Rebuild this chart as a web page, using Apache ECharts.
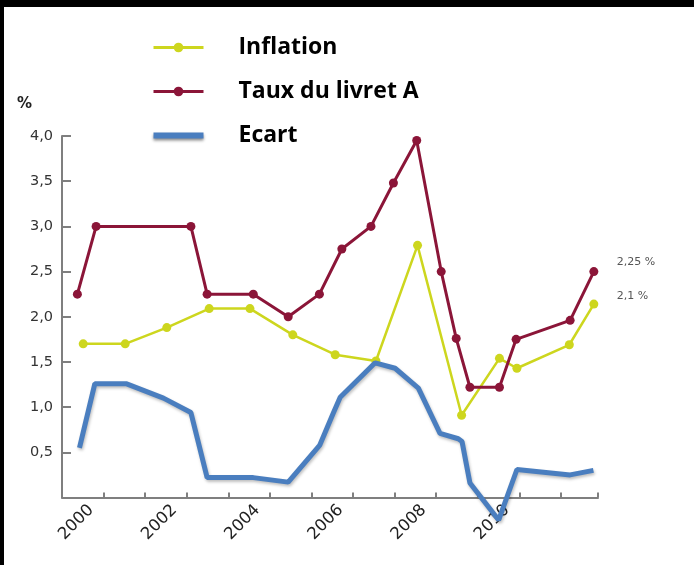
<!DOCTYPE html>
<html>
<head>
<meta charset="utf-8">
<script src="https://cdn.jsdelivr.net/npm/echarts@6/dist/echarts.min.js"></script>
<style>
html,body{margin:0;padding:0;background:#fff;}
#chart{width:694px;height:565px;}
</style>
</head>
<body>
<div id="chart"></div>
<script>
// x positions expressed in fractional years
const livretX = [2000.37, 2000.82, 2003.10, 2003.49, 2004.60, 2005.44, 2006.19, 2006.73, 2007.43, 2007.97, 2008.53, 2009.12, 2009.48, 2009.81, 2010.52, 2010.92, 2012.22, 2012.79];
const livretY = [2.25, 3.0, 3.0, 2.25, 2.25, 2.0, 2.25, 2.75, 3.0, 3.48, 3.95, 2.5, 1.76, 1.22, 1.22, 1.75, 1.96, 2.5];

const inflationX = [2000.51, 2001.52, 2002.52, 2003.54, 2004.52, 2005.55, 2006.57, 2007.55, 2008.55, 2009.61, 2010.52, 2010.94, 2012.20, 2012.79];
const inflationY = [1.70, 1.70, 1.88, 2.09, 2.09, 1.80, 1.58, 1.51, 2.79, 0.91, 1.54, 1.43, 1.69, 2.14];

const ecartX = [2000.42, 2000.79, 2001.54, 2002.44, 2003.10, 2003.49, 2004.60, 2005.44, 2006.20, 2006.52, 2006.69, 2007.53, 2008.01, 2008.57, 2009.09, 2009.53, 2009.62, 2009.81, 2010.50, 2010.94, 2012.22, 2012.78];
const ecartY = [0.55, 1.26, 1.26, 1.10, 0.94, 0.22, 0.22, 0.17, 0.58, 0.93, 1.11, 1.49, 1.43, 1.21, 0.71, 0.65, 0.62, 0.16, -0.25, 0.31, 0.25, 0.30];

const seriesNames = ['Inflation', 'Taux du livret A', 'Ecart'];
const endLabels = ['2,1 %', '2,25 %'];

const xLabelYears = [2000, 2002, 2004, 2006, 2008, 2010];
const xLabelTexts = ['2000', '2002', '2004', '2006', '2008', '2010'];
const yTickValues = [0, 0.5, 1.0, 1.5, 2.0, 2.5, 3.0, 3.5, 4.0];
const yTickLabels = ['', '0,5', '1,0', '1,5', '2,0', '2,5', '3,0', '3,5', '4,0'];

const LABEL_SHIFT = 0.7;
const zip = (xs, ys) => xs.map((x, i) => [x, ys[i]]);

const colors = { inflation: '#cdd61e', livret: '#8b1538', ecart: '#4a7ebf' };

const chart = echarts.init(document.getElementById('chart'), null, { renderer: 'canvas' });
chart.setOption({
  backgroundColor: '#ffffff',
  animation: false,
  grid: { left: 62, right: 96, top: 136, bottom: 67.5, containLabel: false },
  legend: {
    orient: 'vertical',
    left: 152,
    top: 36,
    padding: 0,
    itemWidth: 50,
    itemHeight: 12,
    itemGap: 21,
    selectedMode: false,
    textStyle: { fontFamily: 'Open Sans', fontWeight: 'bold', fontSize: 23, color: '#000', padding: [0, 0, 0, 30] },
    data: [
      { name: seriesNames[0], lineStyle: { width: 3 } },
      { name: seriesNames[1], lineStyle: { width: 3 } },
      { name: seriesNames[2], icon: 'path://M0,0H50V6H0Z', itemStyle: { color: colors.ecart, shadowColor: 'rgba(0,0,0,0.45)', shadowBlur: 3, shadowOffsetY: 2 } }
    ]
  },
  xAxis: {
    type: 'value',
    min: 2000,
    max: 2012.89,
    interval: 1,
    splitLine: { show: false },
    axisLine: { show: true, lineStyle: { color: '#7f7f7f', width: 2 } },
    axisTick: { show: true, inside: false, length: -5, lineStyle: { color: '#7f7f7f', width: 2 } },
    axisLabel: {
      show: true,
      rotate: 45,
      margin: 10,
      fontFamily: 'DejaVu Sans',
      fontSize: 16.5,
      color: '#222',
      customValues: xLabelYears.map(y => y + LABEL_SHIFT),
      formatter: v => {
        const i = xLabelYears.findIndex(y => Math.abs(y + LABEL_SHIFT - v) < 1e-6);
        return i >= 0 ? xLabelTexts[i] : '';
      }
    }
  },
  yAxis: {
    type: 'value',
    min: 0,
    max: 4,
    interval: 0.5,
    splitLine: { show: false },
    axisLine: { show: true, lineStyle: { color: '#7f7f7f', width: 2 } },
    axisTick: { show: true, inside: false, length: -9, lineStyle: { color: '#7f7f7f', width: 2 } },
    axisLabel: {
      margin: 9,
      fontFamily: 'DejaVu Sans',
      fontSize: 14.5,
      color: '#333',
      formatter: v => {
        const i = yTickValues.findIndex(t => Math.abs(t - v) < 1e-6);
        return i >= 0 ? yTickLabels[i] : '';
      }
    }
  },
  graphic: [
    { type: 'rect', left: 0, top: 0, shape: { width: 694, height: 7 }, style: { fill: '#000' }, z: 100 },
    { type: 'rect', left: 0, top: 0, shape: { width: 4, height: 565 }, style: { fill: '#000' }, z: 100 },
    { type: 'text', left: 17, top: 97, style: { text: '%', font: 'bold 15px "DejaVu Sans"', fill: '#222' } }
  ],
  series: [
    {
      name: seriesNames[0],
      type: 'line',
      data: zip(inflationX, inflationY),
      symbol: 'circle',
      symbolSize: 9,
      color: colors.inflation,
      lineStyle: { width: 2.5, color: colors.inflation },
      itemStyle: { color: colors.inflation },
      clip: false,
      z: 2,
      endLabel: {
        show: true,
        formatter: endLabels[0],
        distance: 0,
        offset: [23, -8],
        fontFamily: 'DejaVu Sans',
        fontSize: 11,
        color: '#555'
      }
    },
    {
      name: seriesNames[1],
      type: 'line',
      data: zip(livretX, livretY),
      symbol: 'circle',
      symbolSize: 9,
      color: colors.livret,
      lineStyle: { width: 3, color: colors.livret },
      itemStyle: { color: colors.livret },
      clip: false,
      z: 3,
      endLabel: {
        show: true,
        formatter: endLabels[1],
        distance: 0,
        offset: [23, -9],
        fontFamily: 'DejaVu Sans',
        fontSize: 11,
        color: '#555'
      }
    },
    {
      name: seriesNames[2],
      type: 'line',
      data: zip(ecartX, ecartY),
      symbol: 'none',
      showSymbol: false,
      color: colors.ecart,
      lineStyle: { width: 5, color: colors.ecart, shadowColor: 'rgba(0,0,0,0.25)', shadowBlur: 3, shadowOffsetX: 1, shadowOffsetY: 2 },
      itemStyle: { color: colors.ecart },
      clip: false,
      z: 4
    }
  ]
});
</script>
</body>
</html>
